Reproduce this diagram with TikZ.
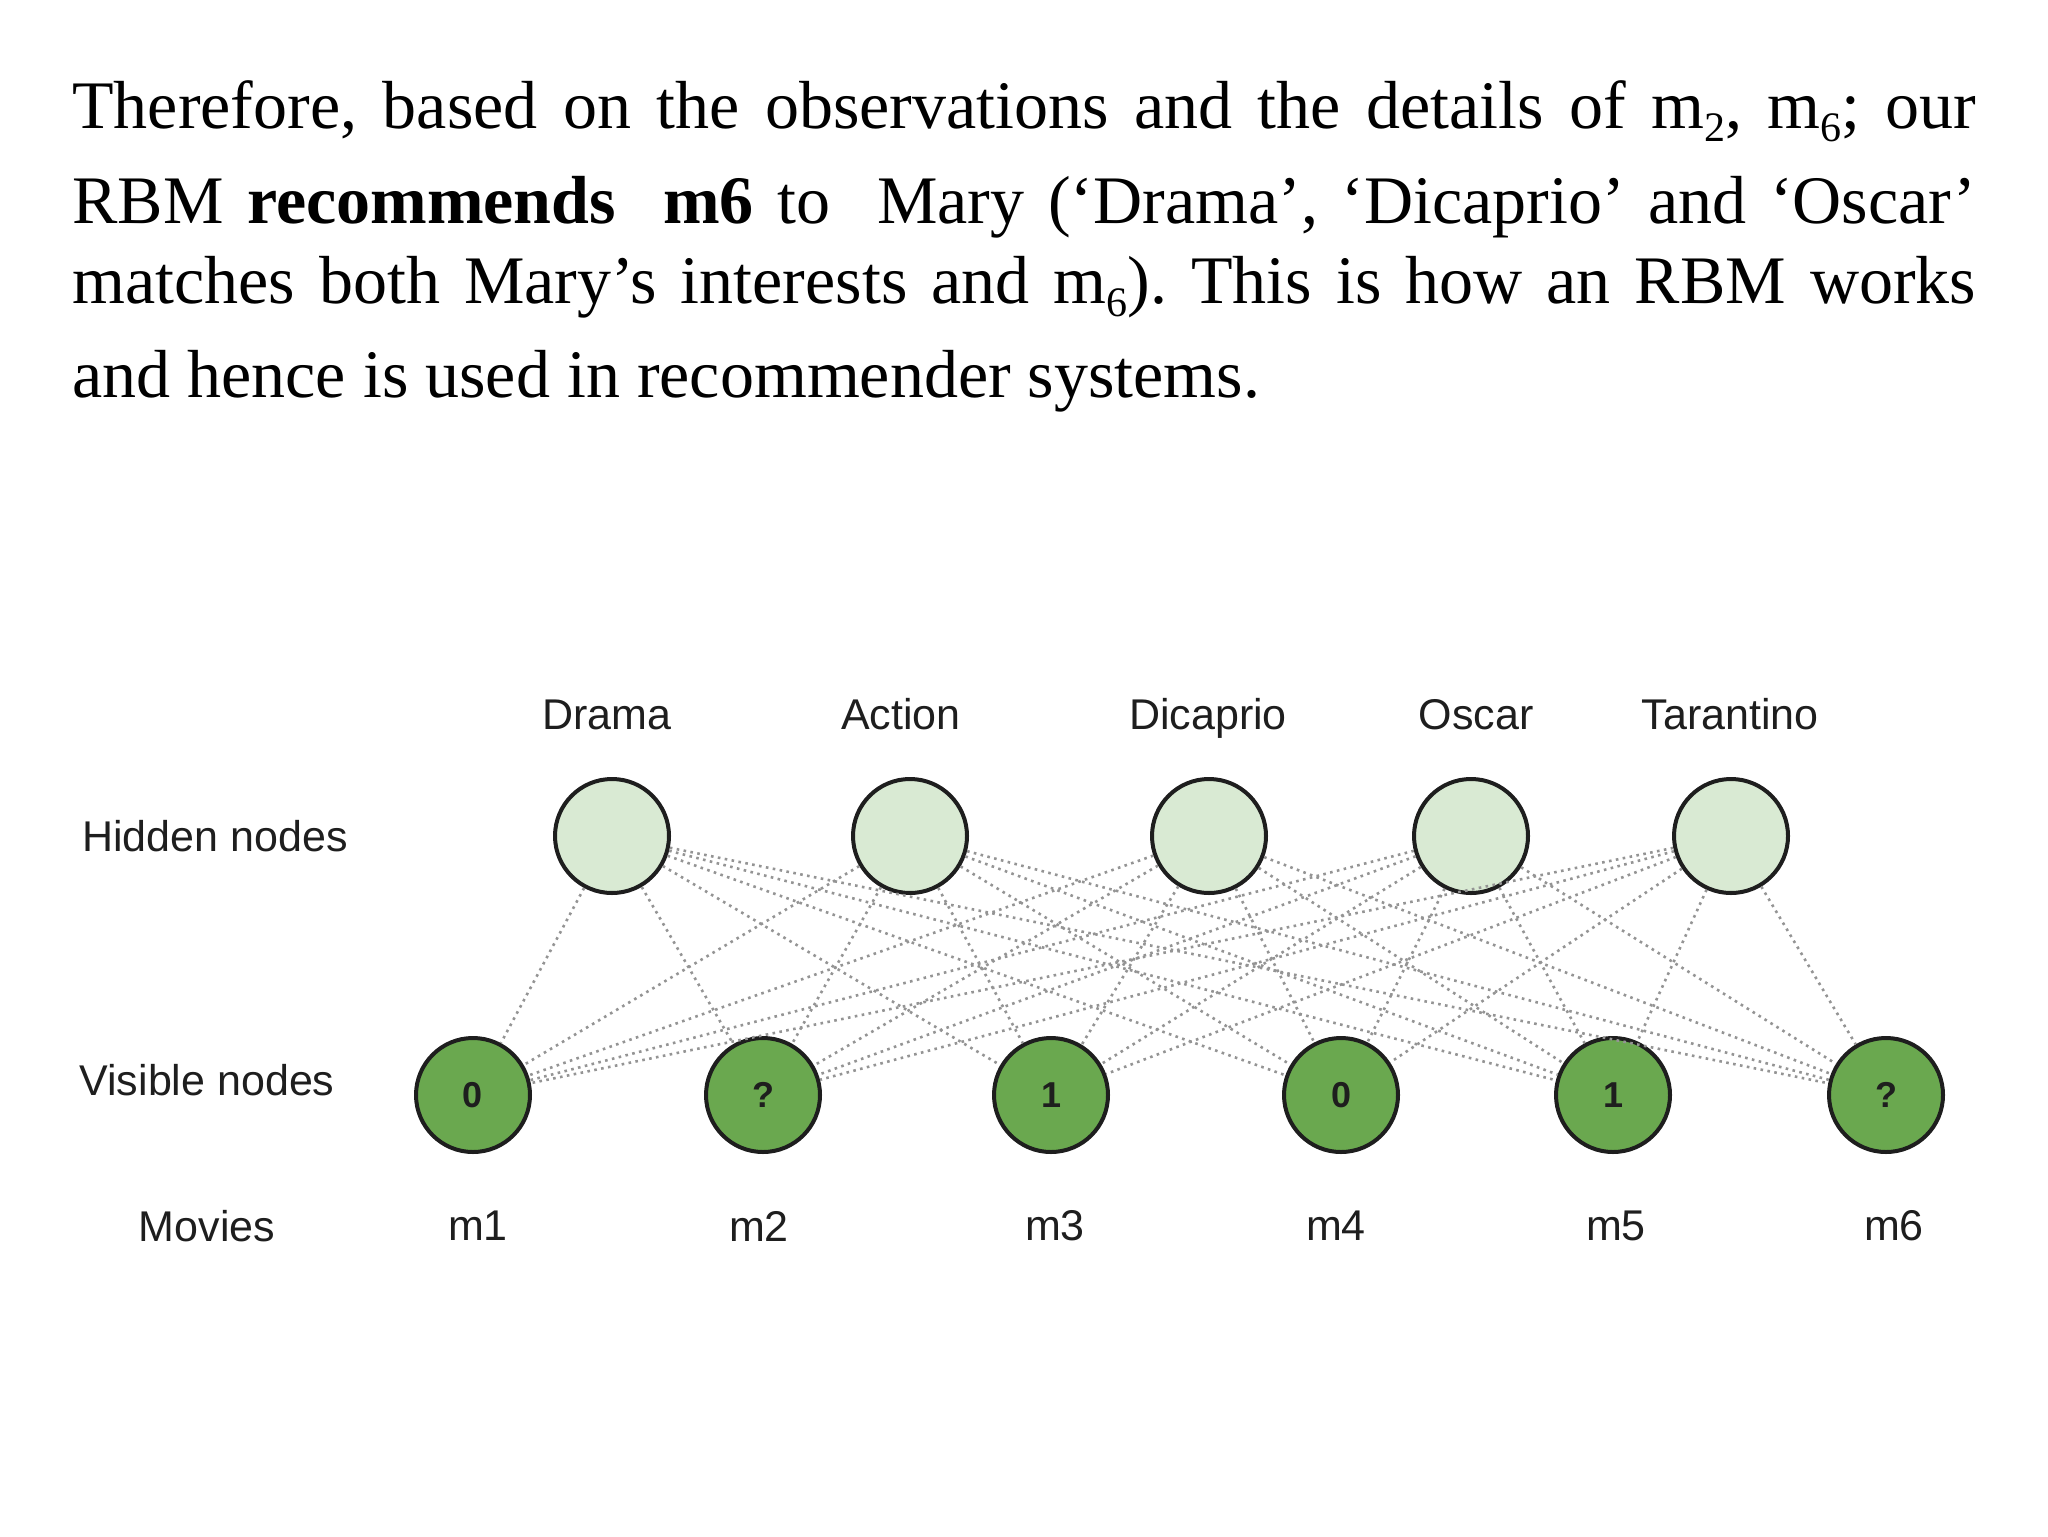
\documentclass[tikz,border=0pt]{standalone}
\usepackage{fontspec}
\setmainfont{Liberation Serif}
\newfontfamily\diag{Liberation Sans}
\definecolor{hidfill}{HTML}{D9EAD3}
\definecolor{visfill}{HTML}{6AA84F}
\definecolor{ink}{HTML}{1E1E1E}
\newcommand{\lowsub}[1]{\raisebox{-0.42ex}{\fontsize{21}{21}\selectfont #1}}
\frenchspacing
\begin{document}
\begin{tikzpicture}[x=0.5pt,y=-0.5pt,
  hid/.style={circle, draw=ink, line width=2pt, fill=hidfill, minimum size=57pt, inner sep=0pt},
  vis/.style={circle, draw=ink, line width=2pt, fill=visfill, minimum size=57pt, inner sep=0pt,
              font=\diag\bfseries\fontsize{18}{20}\selectfont, text=ink},
  lab/.style={font=\diag\fontsize{21.5}{25}\selectfont, text=ink, inner sep=0pt},
  toplab/.style={lab, anchor=base},
  link/.style={draw=black!42, line width=1.3pt, dash pattern=on 1.3pt off 2.2pt},
  para/.style={anchor=base west, inner sep=0pt, font=\fontsize{34}{40}\selectfont}]
\useasboundingbox[fill=white] (0,0) rectangle (2048,1536);

% paragraph
\node[para] (l1) at (72,128) {\makebox[952pt][s]{Therefore, based on the observations and the details of m\lowsub{2}, m\lowsub{6}; our}};
\node[para] (l2) at (72,223) {\makebox[952pt][s]{RBM \textbf{recommends\ \ m6} to\ \ Mary (‘Drama’, ‘Dicaprio’ and ‘Oscar’}};
\node[para] (l3) at (72,303) {\makebox[952pt][s]{matches both Mary’s interests and m\lowsub{6}). This is how an RBM works}};
\node[para] (l4) at (72,397) {and hence is used in recommender systems.};

% hidden labels
\node[toplab] (tDrama) at (607,729) {Drama};
\node[toplab] (tAction) at (901,729) {Action};
\node[toplab] (tDicaprio) at (1208,729) {Dicaprio};
\node[toplab] (tOscar) at (1476,729) {Oscar};
\node[toplab] (tTarantino) at (1730,729) {Tarantino};

% row labels
\node[lab] (tHidden) at (215,836) {Hidden nodes};
\node[lab] (tVisible) at (207,1080) {Visible nodes};
\node[lab] (tMovies) at (207,1226) {Movies};

% hidden nodes
\node[hid] (h1) at (612,836) {};
\node[hid] (h2) at (910,836) {};
\node[hid] (h3) at (1209,836) {};
\node[hid] (h4) at (1471,836) {};
\node[hid] (h5) at (1731,836) {};

% visible nodes
\node[vis] (v1) at (473,1095) {0};
\node[vis] (v2) at (763,1095) {?};
\node[vis] (v3) at (1051,1095) {1};
\node[vis] (v4) at (1341,1095) {0};
\node[vis] (v5) at (1613,1095) {1};
\node[vis] (v6) at (1886,1095) {?};

% movie labels
\node[lab] (m1) at (478,1226) {m1};
\node[lab] (m2) at (759,1226) {m2};
\node[lab] (m3) at (1055,1226) {m3};
\node[lab] (m4) at (1336,1226) {m4};
\node[lab] (m5) at (1616,1226) {m5};
\node[lab] (m6) at (1894,1226) {m6};

% connections
\foreach \h in {h1,h2,h3,h4,h5}
  \foreach \v in {v1,v2,v3,v4,v5,v6}
    \draw[link] (\h) -- (\v);
\end{tikzpicture}
\end{document}
